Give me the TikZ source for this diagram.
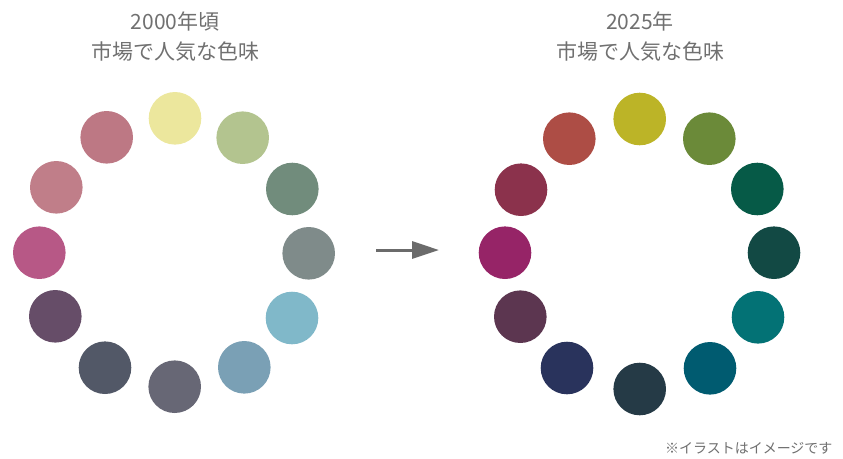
\documentclass[tikz,border=0pt]{standalone}
\usepackage{fontspec}
\newfontfamily\jp{Noto Sans CJK JP}
\usetikzlibrary{arrows.meta}
\definecolor{txt}{HTML}{707070}
\definecolor{arr}{HTML}{6B6B6B}
\definecolor{La}{HTML}{ECE79D}
\definecolor{Lb}{HTML}{B3C48F}
\definecolor{Lc}{HTML}{718C7C}
\definecolor{Ld}{HTML}{7F8B8A}
\definecolor{Le}{HTML}{80B8C9}
\definecolor{Lf}{HTML}{7AA0B5}
\definecolor{Lg}{HTML}{676775}
\definecolor{Lh}{HTML}{525867}
\definecolor{Li}{HTML}{664D68}
\definecolor{Lj}{HTML}{B75886}
\definecolor{Lk}{HTML}{C07E89}
\definecolor{Ll}{HTML}{BD7884}
\definecolor{Ra}{HTML}{BCB427}
\definecolor{Rb}{HTML}{6B8A39}
\definecolor{Rc}{HTML}{065A47}
\definecolor{Rd}{HTML}{124944}
\definecolor{Re}{HTML}{037275}
\definecolor{Rf}{HTML}{005B70}
\definecolor{Rg}{HTML}{253A46}
\definecolor{Rh}{HTML}{29335C}
\definecolor{Ri}{HTML}{5C3650}
\definecolor{Rj}{HTML}{962467}
\definecolor{Rk}{HTML}{8B324C}
\definecolor{Rl}{HTML}{AD4D45}
\begin{document}
\begin{tikzpicture}[x=1pt,y=-1pt,
  dot/.style={circle,minimum size=52.6pt,inner sep=0pt,fill=#1},
  ttl/.style={font=\jp\fontsize{21}{30}\selectfont,text=txt,align=center}]
\useasboundingbox (0,0) rectangle (843,458);
\node[ttl] (t1) at (175,37) {2000年頃\\市場で人気な色味};
\node[ttl] (t2) at (640,37) {2025年\\市場で人気な色味};
% left
\node[dot=La] (l1) at (175,118.3) {};
\node[dot=Lb] (l2) at (242.7,137.7) {};
\node[dot=Lc] (l3) at (292.3,189) {};
\node[dot=Ld] (l4) at (308.7,253.3) {};
\node[dot=Le] (l5) at (292,318) {};
\node[dot=Lf] (l6) at (244.3,367.3) {};
\node[dot=Lg] (l7) at (174.7,386.7) {};
\node[dot=Lh] (l8) at (105,367.7) {};
\node[dot=Li] (l9) at (55.3,316.3) {};
\node[dot=Lj] (l10) at (39.3,252.7) {};
\node[dot=Lk] (l11) at (56.3,187.3) {};
\node[dot=Ll] (l12) at (106.7,137.3) {};
% right
\node[dot=Ra] (r1) at (639.7,119) {};
\node[dot=Rb] (r2) at (709.3,138.7) {};
\node[dot=Rc] (r3) at (757.3,189) {};
\node[dot=Rd] (r4) at (774,252.7) {};
\node[dot=Re] (r5) at (758,317.3) {};
\node[dot=Rf] (r6) at (710,368.3) {};
\node[dot=Rg] (r7) at (639.7,389) {};
\node[dot=Rh] (r8) at (567,368) {};
\node[dot=Ri] (r9) at (520.3,316.7) {};
\node[dot=Rj] (r10) at (505,252.7) {};
\node[dot=Rk] (r11) at (521,189.7) {};
\node[dot=Rl] (r12) at (569.3,138.7) {};
% arrow
\coordinate (a1) at (376,250);
\coordinate (a2) at (439,250);
\draw[arr,line width=3pt,-{Triangle[length=27pt,width=17pt]}] (a1) -- (a2);
\node[font=\jp\fontsize{14}{16}\selectfont,text=txt,anchor=east] (note) at (836,448) {※イラストはイメージです};
\end{tikzpicture}
\end{document}
